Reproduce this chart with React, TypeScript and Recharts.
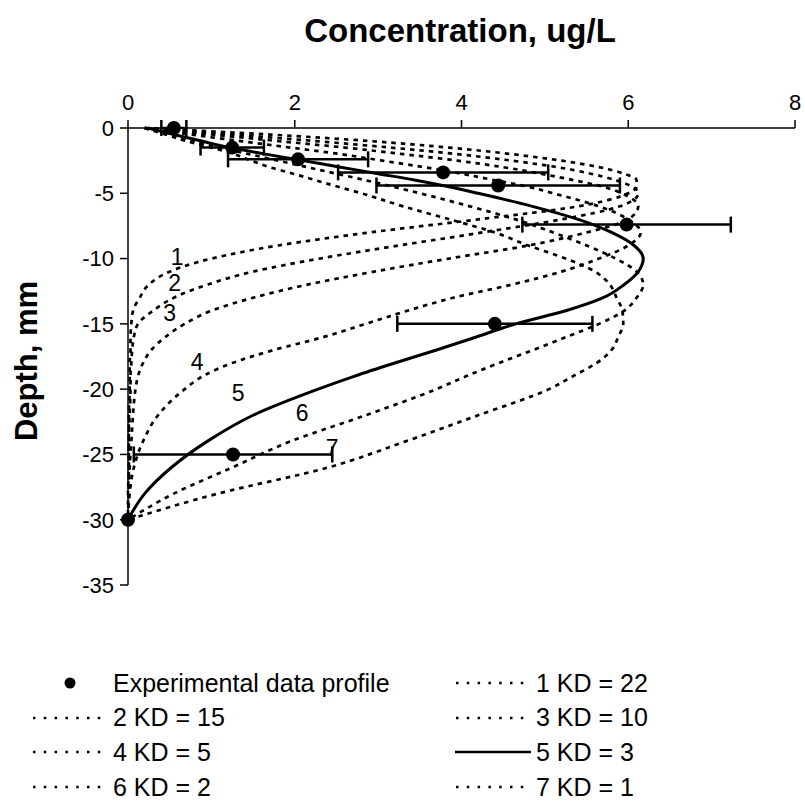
import React from 'react';
import { ComposedChart, Line, Scatter, XAxis, YAxis, ErrorBar } from 'recharts';

// depth grid (mm) shared by all model profiles
const depths = [0, -0.5, -1, -1.5, -2, -2.5, -3, -3.5, -4, -4.5, -5, -6, -7, -8, -9, -10, -11, -12, -13, -14, -15, -16, -17, -18, -19, -20, -22, -24, -26, -28, -30];

// model concentration profiles (ug/L), one per KD
const kd22 = [0.2, 1.7, 2.9, 3.85, 4.6, 5.2, 5.65, 5.95, 6.1, 6.1, 6.0, 5.4, 4.2, 2.9, 1.8, 1.0, 0.5, 0.25, 0.14, 0.06, 0.04, 0.03, 0.03, 0.02, 0.02, 0.02, 0.01, 0.01, 0.01, 0, 0];
const kd15 = [0.2, 1.25, 2.25, 3.15, 3.95, 4.6, 5.15, 5.55, 5.85, 6.05, 6.12, 5.9, 5.2, 4.25, 3.25, 2.3, 1.5, 0.95, 0.55, 0.3, 0.12, 0.07, 0.05, 0.04, 0.03, 0.03, 0.02, 0.01, 0.01, 0.01, 0];
const kd10 = [0.2, 1.0, 1.8, 2.6, 3.3, 3.95, 4.5, 4.95, 5.35, 5.7, 5.92, 6.12, 6.0, 5.5, 4.8, 3.85, 2.95, 2.15, 1.5, 1.0, 0.68, 0.45, 0.28, 0.18, 0.12, 0.09, 0.06, 0.04, 0.02, 0.01, 0];
const kd5 = [0.2, 0.75, 1.35, 1.95, 2.55, 3.05, 3.55, 4.0, 4.4, 4.8, 5.1, 5.65, 6.0, 6.15, 6.0, 5.65, 5.2, 4.6, 3.9, 3.35, 2.85, 2.35, 1.75, 1.25, 0.9, 0.68, 0.36, 0.18, 0.07, 0.02, 0];
const kd3 = [0.24, 0.55, 0.88, 1.22, 1.65, 2.1, 2.55, 3.0, 3.45, 3.85, 4.2, 4.85, 5.4, 5.8, 6.07, 6.18, 6.12, 5.95, 5.7, 5.25, 4.65, 4.18, 3.7, 3.2, 2.72, 2.28, 1.5, 0.95, 0.52, 0.2, 0];
const kd2 = [0.2, 0.5, 0.8, 1.1, 1.45, 1.8, 2.15, 2.5, 2.85, 3.18, 3.5, 4.1, 4.65, 5.1, 5.5, 5.85, 6.1, 6.18, 6.1, 5.95, 5.65, 5.26, 4.86, 4.45, 4.06, 3.7, 2.85, 1.95, 1.25, 0.55, 0];
const kd1 = [0.2, 0.45, 0.7, 1.0, 1.27, 1.48, 1.7, 1.98, 2.25, 2.52, 2.8, 3.3, 3.86, 4.4, 4.8, 5.25, 5.6, 5.78, 5.86, 5.93, 5.94, 5.88, 5.8, 5.62, 5.34, 5.05, 4.2, 3.33, 2.4, 1.08, 0];

const kdValues = [22, 15, 10, 5, 3, 2, 1];
const profiles = [kd22, kd15, kd10, kd5, kd3, kd2, kd1];

// experimental data profile with error (+/-)
const expDepth = [0, -1.5, -2.4, -3.4, -4.4, -7.4, -15, -25, -30];
const expConc = [0.55, 1.25, 2.04, 3.78, 4.44, 5.98, 4.4, 1.26, 0];
const expErr = [0.15, 0.38, 0.84, 1.26, 1.46, 1.25, 1.17, 1.19, 0];

// curve number labels placed in the plot
const labelText = ['1', '2', '3', '4', '5', '6', '7'];
const labelConc = [0.59, 0.56, 0.5, 0.83, 1.32, 2.09, 2.45];
const labelDepth = [-9.9, -11.9, -14.2, -17.9, -20.3, -21.8, -24.5];

const xTicks = [0, 2, 4, 6, 8];
const yTicks = [0, -5, -10, -15, -20, -25, -30, -35];

const FONT = 'Arial, "Liberation Sans", sans-serif';

const rows = depths.map((depth, i) => {
  const row: any = { depth };
  profiles.forEach((p, k) => (row[`kd${kdValues[k]}`] = p[i]));
  return row;
});
const expRows = expDepth.map((depth, i) => ({ depth, c: expConc[i], err: expErr[i] }));
const labelRows = labelText.map((t, i) => ({ depth: labelDepth[i], c: labelConc[i], t }));

const seriesNames = kdValues.map((kd, i) => `${i + 1} KD = ${kd}`);
const legendItems = ['Experimental data profile', ...seriesNames];

const Dot = (p: any) => <circle cx={p.cx} cy={p.cy} r={7} fill="#000" />;
const CurveLabel = (p: any) => (
  <text x={p.cx} y={p.cy} textAnchor="middle" dominantBaseline="central" fontSize={23} fontFamily={FONT} fill="#000">
    {p.payload.t}
  </text>
);

function LegendSample({ kind }: { kind: string }) {
  return (
    <svg width={76} height={20} style={{ display: 'block' }}>
      {kind === 'dot' && <circle cx={38} cy={10} r={5.5} fill="#000" />}
      {kind === 'solid' && <line x1={0} x2={76} y1={10} y2={10} stroke="#000" strokeWidth={2.5} />}
      {kind === 'dash' && <line x1={1} x2={76} y1={10} y2={10} stroke="#000" strokeWidth={2.5} strokeDasharray="2.5 8.3" />}
    </svg>
  );
}

export default function App() {
  return (
    <div style={{ position: 'absolute', left: 0, top: 0, width: 805, height: 803, background: '#fff', fontFamily: FONT }}>
      <div style={{ position: 'absolute', left: 460, top: 12, transform: 'translateX(-50%)', fontSize: 33, fontWeight: 'bold', whiteSpace: 'nowrap' }}>
        Concentration, ug/L
      </div>
      <div style={{ position: 'absolute', left: 27, top: 361, transform: 'translate(-50%, -50%) rotate(-90deg)', fontSize: 31, fontWeight: 'bold', whiteSpace: 'nowrap' }}>
        Depth, mm
      </div>
      <ComposedChart
        width={805}
        height={600}
        data={rows}
        layout="vertical"
        margin={{ top: 98, right: 10, left: 68, bottom: 15 }}
        style={{ position: 'absolute', left: 0, top: 0 }}
      >
        <XAxis
          type="number"
          orientation="top"
          domain={[0, 8]}
          ticks={xTicks}
          height={30}
          tickSize={8}
          tickMargin={10}
          axisLine={{ stroke: '#000', strokeWidth: 1.5 }}
          tickLine={{ stroke: '#000', strokeWidth: 1.5 }}
          tick={{ fill: '#000', fontSize: 22, fontFamily: FONT }}
        />
        <YAxis
          type="number"
          dataKey="depth"
          domain={[-35, 0]}
          ticks={yTicks}
          reversed
          width={60}
          tickSize={8}
          tickMargin={6}
          axisLine={{ stroke: '#000', strokeWidth: 1.5 }}
          tickLine={{ stroke: '#000', strokeWidth: 1.5 }}
          tick={{ fill: '#000', fontSize: 22, fontFamily: FONT }}
        />
        {kdValues.map((kd, i) => (
          <Line
            key={kd}
            dataKey={`kd${kd}`}
            name={seriesNames[i]}
            type="monotone"
            stroke="#000"
            strokeWidth={kd === 3 ? 3 : 2.7}
            strokeDasharray={kd === 3 ? undefined : '4.5 5'}
            dot={false}
            isAnimationActive={false}
          />
        ))}
        <Scatter data={expRows} dataKey="c" name="Experimental data profile" shape={Dot} isAnimationActive={false}>
          <ErrorBar dataKey="err" direction="x" width={8} stroke="#000" strokeWidth={2.5} />
        </Scatter>
        <Scatter data={labelRows} dataKey="c" shape={CurveLabel} isAnimationActive={false} />
      </ComposedChart>
      {legendItems.map((name, i) => {
        const col = i % 2;
        const row = Math.floor(i / 2);
        const kind = i === 0 ? 'dot' : name.startsWith('5 ') ? 'solid' : 'dash';
        return (
          <div
            key={name}
            style={{
              position: 'absolute',
              left: col === 0 ? 32 : 455,
              top: 683 + row * 34.7 - 14,
              height: 28,
              display: 'flex',
              alignItems: 'center',
              fontSize: 25,
              whiteSpace: 'nowrap',
            }}
          >
            <LegendSample kind={kind} />
            <span style={{ marginLeft: 5 }}>{name}</span>
          </div>
        );
      })}
    </div>
  );
}
